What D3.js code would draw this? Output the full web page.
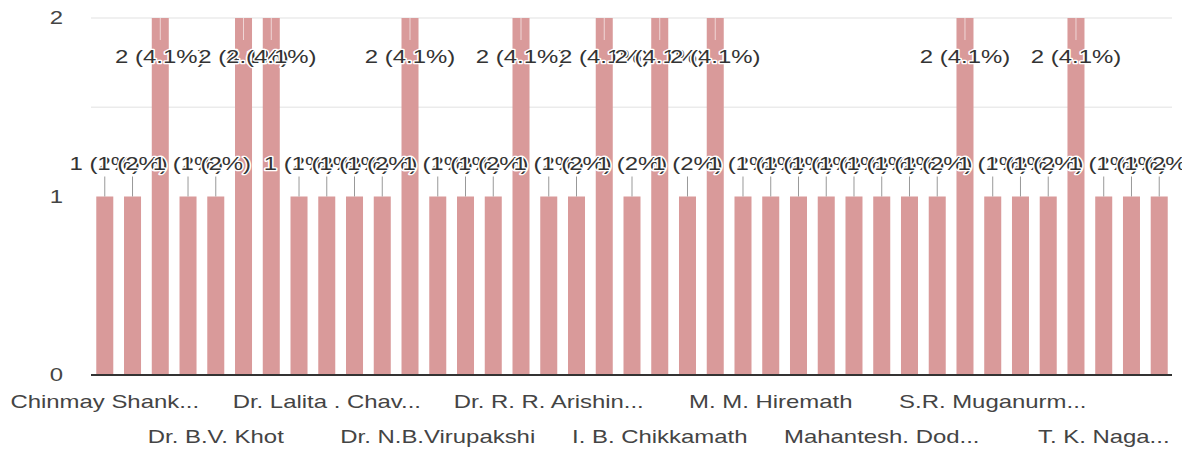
<!DOCTYPE html>
<html>
<head>
<meta charset="utf-8">
<script src="https://cdn.jsdelivr.net/npm/d3@7"></script>
<style>
    body { margin: 0; background: #fff; }
    svg { display: block; font-family: "Liberation Sans", Arial, sans-serif; }
</style>
</head>
<body>
<div id="chart"></div>
<script>
// Only every 4th name is readable in the picture; the rest are left null
const names = [
    'Chinmay Shank...', null, null, null,
    'Dr. B.V. Khot', null, null, null,
    'Dr. Lalita . Chav...', null, null, null,
    'Dr. N.B.Virupakshi', null, null, null,
    'Dr. R. R. Arishin...', null, null, null,
    'I. B. Chikkamath', null, null, null,
    'M. M. Hiremath', null, null, null,
    'Mahantesh. Dod...', null, null, null,
    'S.R. Muganurm...', null, null, null,
    'T. K. Naga...', null, null
];
const counts = [1, 1, 2, 1, 1, 2, 2, 1, 1, 1, 1, 2, 1, 1, 1, 2, 1, 1, 2, 1,
                2, 1, 2, 1, 1, 1, 1, 1, 1, 1, 1, 2, 1, 1, 1, 2, 1, 1, 1];
const yTicks = [0, 1, 2];

const width = 1182, height = 454;
const stretch = 1.33;   // text in the picture is drawn wide
const total = d3.sum(counts);

const svg = d3.select('#chart').append('svg')
    .attr('width', width)
    .attr('height', height);

const x = d3.scaleBand()
    .domain(d3.range(counts.length))
    .range([91, 1173])
    .paddingInner(0.387)
    .paddingOuter(0.19);

const y = d3.scaleLinear()
    .domain([0, 2])
    .range([375, 18]);

// helper: wide text placed at (cx, cy)
const wideText = (g, cx, cy, str, anchor) => g.append('text')
    .attr('transform', `translate(${cx},${cy}) scale(${stretch},1)`)
    .attr('text-anchor', anchor)
    .attr('font-size', 18)
    .text(str);

// gridlines
svg.append('g')
    .selectAll('line')
    .data([1.5, 2])
    .join('line')
    .attr('x1', 91)
    .attr('x2', 1172)
    .attr('y1', d => y(d))
    .attr('y2', d => y(d))
    .attr('stroke', '#ebebeb')
    .attr('stroke-width', 1.5);

// y tick labels
const yAxis = svg.append('g').attr('fill', '#444');
yTicks.forEach(t => wideText(yAxis, 63, y(t) + 6, String(t), 'end'));

// bars
svg.append('g')
    .selectAll('rect')
    .data(counts)
    .join('rect')
    .attr('x', (d, i) => x(i))
    .attr('y', d => y(d))
    .attr('width', x.bandwidth())
    .attr('height', d => y(0) - y(d))
    .attr('fill', '#d99a9a');

// baseline
svg.append('line')
    .attr('x1', 91)
    .attr('x2', 1172)
    .attr('y1', y(0))
    .attr('y2', y(0))
    .attr('stroke', '#333')
    .attr('stroke-width', 2);

// annotation stems
const cx = i => x(i) + x.bandwidth() / 2;
svg.append('g')
    .selectAll('line')
    .data(counts)
    .join('line')
    .attr('x1', (d, i) => cx(i))
    .attr('x2', (d, i) => cx(i))
    .attr('y1', d => d === 2 ? y(d) : y(d) - 20)
    .attr('y2', d => d === 2 ? y(d) + 22 : y(d))
    .attr('stroke', d => d === 2 ? 'rgba(255,255,255,0.6)' : '#999')
    .attr('stroke-width', 1);

// annotation labels, drawn in order with a white halo
const ann = svg.append('g')
    .attr('fill', '#333')
    .attr('stroke', '#fff')
    .attr('stroke-width', 2.5)
    .attr('paint-order', 'stroke')
    .attr('stroke-linejoin', 'round');
counts.forEach((d, i) => {
    const pct = d3.format('.2~r')(d / total * 100);
    const ly = d === 2 ? 63 : y(d) - 27;
    wideText(ann, cx(i), ly, `${d} (${pct}%)`, 'middle');
});

// category labels, every 4th, alternating rows
const xAxis = svg.append('g').attr('fill', '#444');
names.forEach((n, i) => {
    if (n === null) return;
    const row = (i / 4) % 2;
    wideText(xAxis, cx(i), row === 0 ? 408 : 443, n, 'middle');
});
</script>
</body>
</html>
